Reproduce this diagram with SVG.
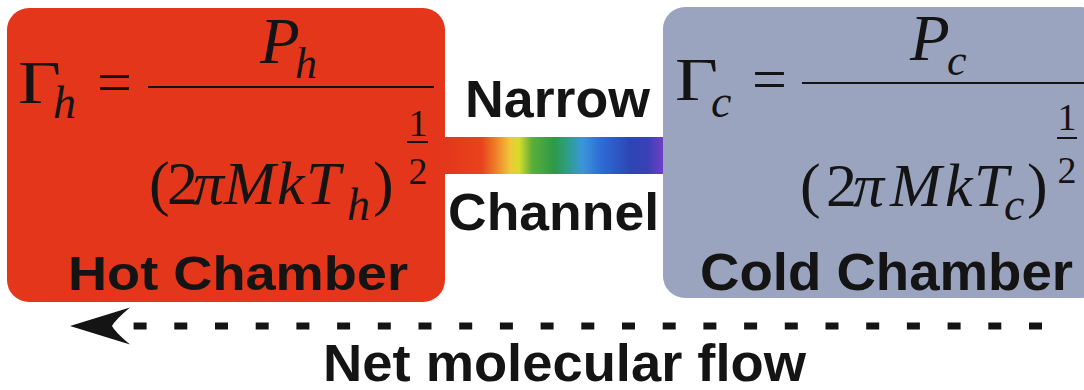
<svg xmlns="http://www.w3.org/2000/svg" width="1084" height="390" viewBox="0 0 1084 390">
<defs>
<style>
.math{font-family:"Liberation Serif","Times New Roman",serif;fill:#141414}
.it{font-style:italic}
.big{font-size:62px}
.num{font-size:65px}
.sub{font-size:46px}
.sm{font-size:44px}
.sup{font-size:38px;text-anchor:middle}
.lbl{font-family:"Liberation Sans",Arial,sans-serif;font-weight:bold;fill:#141414}
.bar{fill:#141414}
</style>
<linearGradient id="rainbow" x1="445" y1="0" x2="663" y2="0" gradientUnits="userSpaceOnUse">
<stop offset="0" stop-color="#E3361B"/>
<stop offset="0.17" stop-color="#E8441C"/>
<stop offset="0.24" stop-color="#F0862A"/>
<stop offset="0.3" stop-color="#EEC83A"/>
<stop offset="0.34" stop-color="#D6DC2A"/>
<stop offset="0.4" stop-color="#5BAE3A"/>
<stop offset="0.5" stop-color="#2D9A48"/>
<stop offset="0.56" stop-color="#2E9E86"/>
<stop offset="0.63" stop-color="#3A96DA"/>
<stop offset="0.72" stop-color="#2E6AD4"/>
<stop offset="0.85" stop-color="#2C46B4"/>
<stop offset="0.93" stop-color="#3A40B6"/>
<stop offset="1" stop-color="#7040C4"/>
</linearGradient>
<marker id="ah" markerUnits="userSpaceOnUse" markerWidth="80" markerHeight="50" viewBox="-25 -25 80 50" refX="0" refY="0" orient="auto" overflow="visible">
<path d="M42,0 L-18,-18.5 Q-3,-6 0,0 Q-3,6 -18,18.5 Z" fill="#141414"/>
</marker>
</defs>
<rect width="1084" height="390" fill="#ffffff"/>

<g id="channel">
<rect x="440" y="137" width="228" height="37" fill="url(#rainbow)"/>
<text class="lbl" x="465" y="117" font-size="51" textLength="185" lengthAdjust="spacingAndGlyphs">Narrow</text>
<text class="lbl" x="448" y="230" font-size="52" textLength="211" lengthAdjust="spacingAndGlyphs">Channel</text>
</g>

<g id="hot-chamber">
<rect x="7" y="8" width="438" height="294" rx="22" ry="22" fill="#E3361B"/>
<text class="math big" x="18" y="103" textLength="43" lengthAdjust="spacingAndGlyphs">Γ</text>
<text class="math it sub" x="53" y="118">h</text>
<text class="math big" x="97" y="103">=</text>
<rect class="bar" x="148" y="86" width="286" height="2"/>
<text class="math it num" x="260" y="63">P</text>
<text class="math it sm" x="295" y="78">h</text>
<text class="math big" x="149" y="204">(</text>
<text class="math big" x="167" y="204">2</text>
<text class="math it big" x="193" y="204">π</text>
<text class="math it big" x="224" y="204">M</text>
<text class="math it big" x="277" y="204">k</text>
<text class="math it big" x="306" y="204">T</text>
<text class="math it sub" x="347" y="220">h</text>
<text class="math big" x="373" y="204">)</text>
<text class="math sup" x="418" y="136">1</text>
<rect class="bar" x="407" y="141" width="21" height="2"/>
<text class="math sup" x="418" y="184">2</text>
<text class="lbl" x="68" y="290" font-size="49" textLength="340" lengthAdjust="spacingAndGlyphs">Hot Chamber</text>
</g>

<g id="cold-chamber">
<rect x="663" y="7" width="440" height="291" rx="22" ry="22" fill="#9AA4BF"/>
<text class="math big" x="675" y="100" textLength="43" lengthAdjust="spacingAndGlyphs">Γ</text>
<text class="math it sub" x="711" y="117">c</text>
<text class="math big" x="752" y="100">=</text>
<rect class="bar" x="802" y="82" width="290" height="2"/>
<text class="math it num" x="910" y="60">P</text>
<text class="math it sm" x="947" y="75">c</text>
<text class="math big" x="800" y="206">(</text>
<text class="math big" x="826" y="206">2</text>
<text class="math it big" x="853" y="206">π</text>
<text class="math it big" x="890" y="206">M</text>
<text class="math it big" x="945" y="206">k</text>
<text class="math it big" x="974" y="206">T</text>
<text class="math it sub" x="1004" y="220">c</text>
<text class="math big" x="1027" y="206">)</text>
<text class="math sup" x="1067" y="130">1</text>
<rect class="bar" x="1057" y="137" width="20" height="2"/>
<text class="math sup" x="1067" y="183">2</text>
<text class="lbl" x="700" y="290" font-size="51" textLength="373" lengthAdjust="spacingAndGlyphs">Cold Chamber</text>
</g>

<g id="connectors">
<path d="M1042,326 L112,326" fill="none" stroke="#141414" stroke-width="7" stroke-dasharray="13 27.7" marker-end="url(#ah)"/>
</g>

<g id="flow-label">
<text class="lbl" x="323" y="381" font-size="51" textLength="483" lengthAdjust="spacingAndGlyphs">Net molecular flow</text>
</g>
</svg>
